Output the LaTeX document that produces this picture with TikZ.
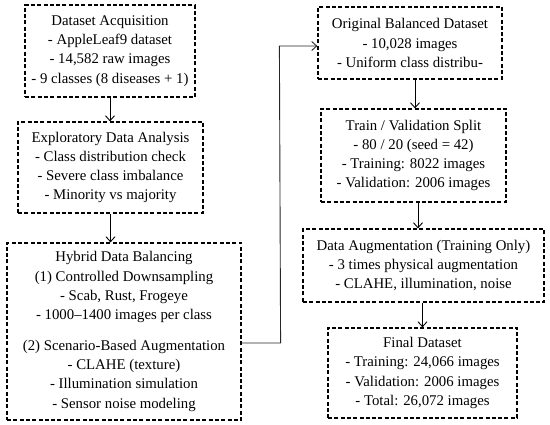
\documentclass[tikz,border=0pt]{standalone}
\usepackage{fontspec}
\setmainfont{Liberation Serif}
\usetikzlibrary{arrows.meta,calc}
\begin{document}
\begin{tikzpicture}[x=1pt,y=-1pt,
  box/.style={draw, line width=1.2pt, dash pattern=on 4pt off 2.3pt, align=center,
    inner sep=0pt, font=\fontsize{14.8}{19.3}\selectfont},
  arr/.style={line width=0.9pt, -{Straight Barb[length=5pt,width=9pt,line width=0.9pt]}}]
\useasboundingbox (0,0) rectangle (550,425);
\node[box, minimum width=170pt, minimum height=92pt] (b1) at (110,51)
  {Dataset Acquisition\\- AppleLeaf9 dataset\\- 14,582 raw images\\- 9 classes (8 diseases + 1)};
\node[box, minimum width=185pt, minimum height=91pt] (b2) at (110.5,167.5)
  {Exploratory Data Analysis\\- Class distribution check\\- Severe class imbalance\\- Minority vs majority};
\node[box, minimum width=234pt, minimum height=177pt] (b3) at (124,331.5)
  {Hybrid Data Balancing\\(1) Controlled Downsampling\\- Scab, Rust, Frogeye\\- 1000--1400 images per class\\[11pt]
   (2) Scenario-Based Augmentation\\- CLAHE (texture)\\- Illumination simulation\\- Sensor noise modeling};
\node[box, minimum width=184pt, minimum height=72pt] (b4) at (410,43)
  {Original Balanced Dataset\\- 10,028 images\\- Uniform class distribu-};
\node[box, minimum width=185pt, minimum height=93pt] (b5) at (413.5,155.5)
  {Train / Validation Split\\- 80 / 20 (seed = 42)\\- Training: 8022 images\\- Validation: 2006 images};
\node[box, minimum width=241pt, minimum height=73pt] (b6) at (423.5,265.5)
  {Data Augmentation (Training Only)\\- 3 times physical augmentation\\- CLAHE, illumination, noise};
\node[box, minimum width=189pt, minimum height=90pt] (b7) at (422.5,373)
  {Final Dataset\\- Training: 24,066 images\\- Validation: 2006 images\\- Total: 26,072 images};
\coordinate (s3) at ($(b3.east)+(0,11.5)$);
\coordinate (c1) at ($(b3.east)+(39,11.5)$);
\coordinate (c2) at ($(b4.west)+(-38,3)$);
\coordinate (e4) at ($(b4.west)+(0,3)$);
\draw[arr] (b1.south) -- (b1.south |- b2.north);
\draw[arr] (b2.south) -- (b2.south |- b3.north);
\draw[arr] ([xshift=5pt]b4.south) -- ([xshift=5pt]b4.south |- b5.north);
\draw[arr] ([xshift=4.5pt]b5.south) -- ([xshift=4.5pt]b5.south |- b6.north);
\draw[arr] ([xshift=-1pt]b6.south) -- ([xshift=-1pt]b6.south |- b7.north);
\draw[arr, draw=black!85] (s3) -- (c1) -- (c2) -- (e4);
\end{tikzpicture}
\end{document}
